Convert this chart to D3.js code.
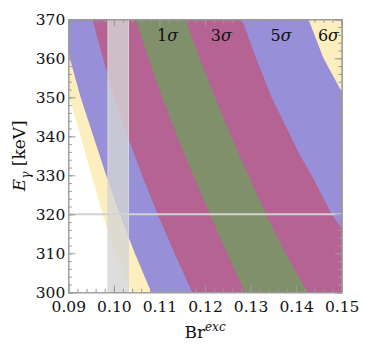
<!DOCTYPE html>
<html lang="en">
<head>
<meta charset="UTF-8">
<title>Br exc vs E gamma</title>
<script src="https://d3js.org/d3.v7.min.js"></script>
<style>
  body { margin: 0; background: #fff; }
  svg text { font-family: "DejaVu Serif", "Liberation Serif", serif; fill: #111; }
</style>
</head>
<body>
<script>
// contour boundaries, [E (keV), Br]
const sig6Left  = [[355, 0.0900], [349.3, 0.0904], [340, 0.0927], [330, 0.0951], [320, 0.0975], [310, 0.1003], [300, 0.1039]];
const sig5Left  = [[361.4, 0.0900], [350, 0.0927], [340, 0.0955], [330, 0.0983], [320, 0.1013], [310, 0.1046], [300, 0.1082]];
const sig3Left  = [[370, 0.0953], [360, 0.0976], [350, 0.1001], [340, 0.1030], [330, 0.1062], [320, 0.1096], [310, 0.1133], [300, 0.1172]];
const sig1Left  = [[370, 0.1048], [360, 0.1076], [350, 0.1106], [340, 0.1139], [330, 0.1174], [320, 0.1211], [310, 0.1248], [300, 0.1288]];
const sig1Right = [[370, 0.1157], [360, 0.1188], [350, 0.1222], [340, 0.1257], [330, 0.1295], [320, 0.1334], [310, 0.1376], [300, 0.1425]];
const sig3Right = [[370, 0.1281], [360, 0.1312], [350, 0.1346], [340, 0.1388], [335.2, 0.1408], [330, 0.1434], [320, 0.1478], [316.4, 0.1500]];
const sig5Right = [[370, 0.1427], [360, 0.1460], [351.4, 0.1500]];

const bandColors = ["#fdeebd", "#978fd8", "#b56392", "#7f906b", "#b56392", "#978fd8", "#fdeebd"];

const sigmaLabels = ["1", "3", "5", "6"];
const sigmaLabelBr = [0.1118, 0.1236, 0.1367, 0.1471];

const measuredBr = [0.0987, 0.1032];
const measuredE = 320;

const xTicks = [0.09, 0.10, 0.11, 0.12, 0.13, 0.14, 0.15];
const yTicks = [300, 310, 320, 330, 340, 350, 360, 370];

const margin = { top: 19.3, left: 68.3 };
const width = 273.4, height = 273;

const svg = d3.select("body").append("svg")
  .attr("width", 365).attr("height", 351);

const g = svg.append("g")
  .attr("transform", `translate(${margin.left},${margin.top})`);

const x = d3.scaleLinear().domain([0.09, 0.15]).range([0, width]);
const y = d3.scaleLinear().domain([300, 370]).range([height, 0]);

g.append("clipPath").attr("id", "plot")
  .append("rect").attr("width", width).attr("height", height);

const layer = g.append("g").attr("clip-path", "url(#plot)");

// region to the right of a boundary, boundary stretched past the frame
function rightOf(b) {
  const p = b.map(d => [x(d[1]), y(d[0])]);
  const ext = (a, c, yy) => [a[0] + (c[0] - a[0]) * (yy - a[1]) / (c[1] - a[1]), yy];
  const top = ext(p[0], p[1], -30);
  const n = p.length;
  const bot = ext(p[n - 2], p[n - 1], height + 30);
  const farX = Math.max(width, bot[0], top[0]) + 60;
  return [top, ...p, bot, [farX, height + 30], [farX, -30]];
}

[sig6Left, sig5Left, sig3Left, sig1Left, sig1Right, sig3Right, sig5Right].forEach((b, i) => {
  layer.append("path")
    .attr("d", d3.line()(rightOf(b)) + "Z")
    .attr("fill", bandColors[i]);
});

// measured band and line
layer.append("rect")
  .attr("x", x(measuredBr[0]))
  .attr("width", x(measuredBr[1]) - x(measuredBr[0]))
  .attr("y", 0).attr("height", height)
  .attr("fill", "rgb(212,212,212)").attr("fill-opacity", 0.8)
  .attr("stroke", "#d8d8d8").attr("stroke-width", 1);

layer.append("line")
  .attr("x1", 0).attr("x2", width)
  .attr("y1", y(measuredE)).attr("y2", y(measuredE))
  .attr("stroke", "#d2d2d2").attr("stroke-width", 2);

// sigma labels
sigmaLabels.forEach((s, i) => {
  const t = g.append("text")
    .attr("x", x(sigmaLabelBr[i])).attr("y", y(364.4))
    .attr("text-anchor", "middle")
    .style("font-size", "16px");
  t.append("tspan").text(s);
  t.append("tspan").attr("font-style", "italic").text("σ");
});

// frame with inward ticks
const minorX = d3.range(0.09, 0.1501, 0.002);
const minorY = d3.range(300, 371, 2);

function styleAxis(sel) {
  sel.select(".domain").attr("stroke", "#9a9a9a");
  sel.selectAll(".tick line").attr("stroke", "#9a9a9a");
  sel.selectAll(".tick text").style("font-size", "15.5px").attr("fill", "#111")
    .style("font-family", '"DejaVu Serif", serif');
}

g.append("g").attr("transform", `translate(0,${height})`)
  .call(d3.axisBottom(x).tickValues(minorX).tickSize(-3.5).tickFormat(""))
  .call(styleAxis);
g.append("g").attr("transform", `translate(0,${height})`)
  .call(d3.axisBottom(x).tickValues(xTicks).tickSize(-7).tickPadding(9).tickFormat(d3.format(".2f")))
  .call(styleAxis);

g.append("g")
  .call(d3.axisTop(x).tickValues(minorX).tickSize(-3.5).tickFormat(""))
  .call(styleAxis);
g.append("g")
  .call(d3.axisTop(x).tickValues(xTicks).tickSize(-7).tickFormat(""))
  .call(styleAxis);

g.append("g")
  .call(d3.axisLeft(y).tickValues(minorY).tickSize(-3.5).tickFormat(""))
  .call(styleAxis);
g.append("g")
  .call(d3.axisLeft(y).tickValues(yTicks).tickSize(-7).tickPadding(3).tickFormat(d3.format("d")))
  .call(styleAxis);

g.append("g").attr("transform", `translate(${width},0)`)
  .call(d3.axisRight(y).tickValues(minorY).tickSize(-3.5).tickFormat(""))
  .call(styleAxis);
g.append("g").attr("transform", `translate(${width},0)`)
  .call(d3.axisRight(y).tickValues(yTicks).tickSize(-7).tickFormat(""))
  .call(styleAxis);

// axis titles
const xt = svg.append("text")
  .attr("x", margin.left + width / 2).attr("y", 338)
  .attr("text-anchor", "middle")
  .style("font-size", "17px");
xt.append("tspan").text("Br");
xt.append("tspan").attr("font-style", "italic").attr("dy", -7)
  .style("font-size", "12px").text("exc");

const yt = svg.append("text")
  .attr("transform", `translate(25,${margin.top + height / 2}) rotate(-90)`)
  .attr("text-anchor", "middle")
  .style("font-size", "17px");
yt.append("tspan").attr("font-style", "italic").text("E");
yt.append("tspan").attr("font-style", "italic").attr("dy", 5)
  .style("font-size", "12px").text("γ");
yt.append("tspan").attr("dy", -5).text(" [keV]");
</script>
</body>
</html>
